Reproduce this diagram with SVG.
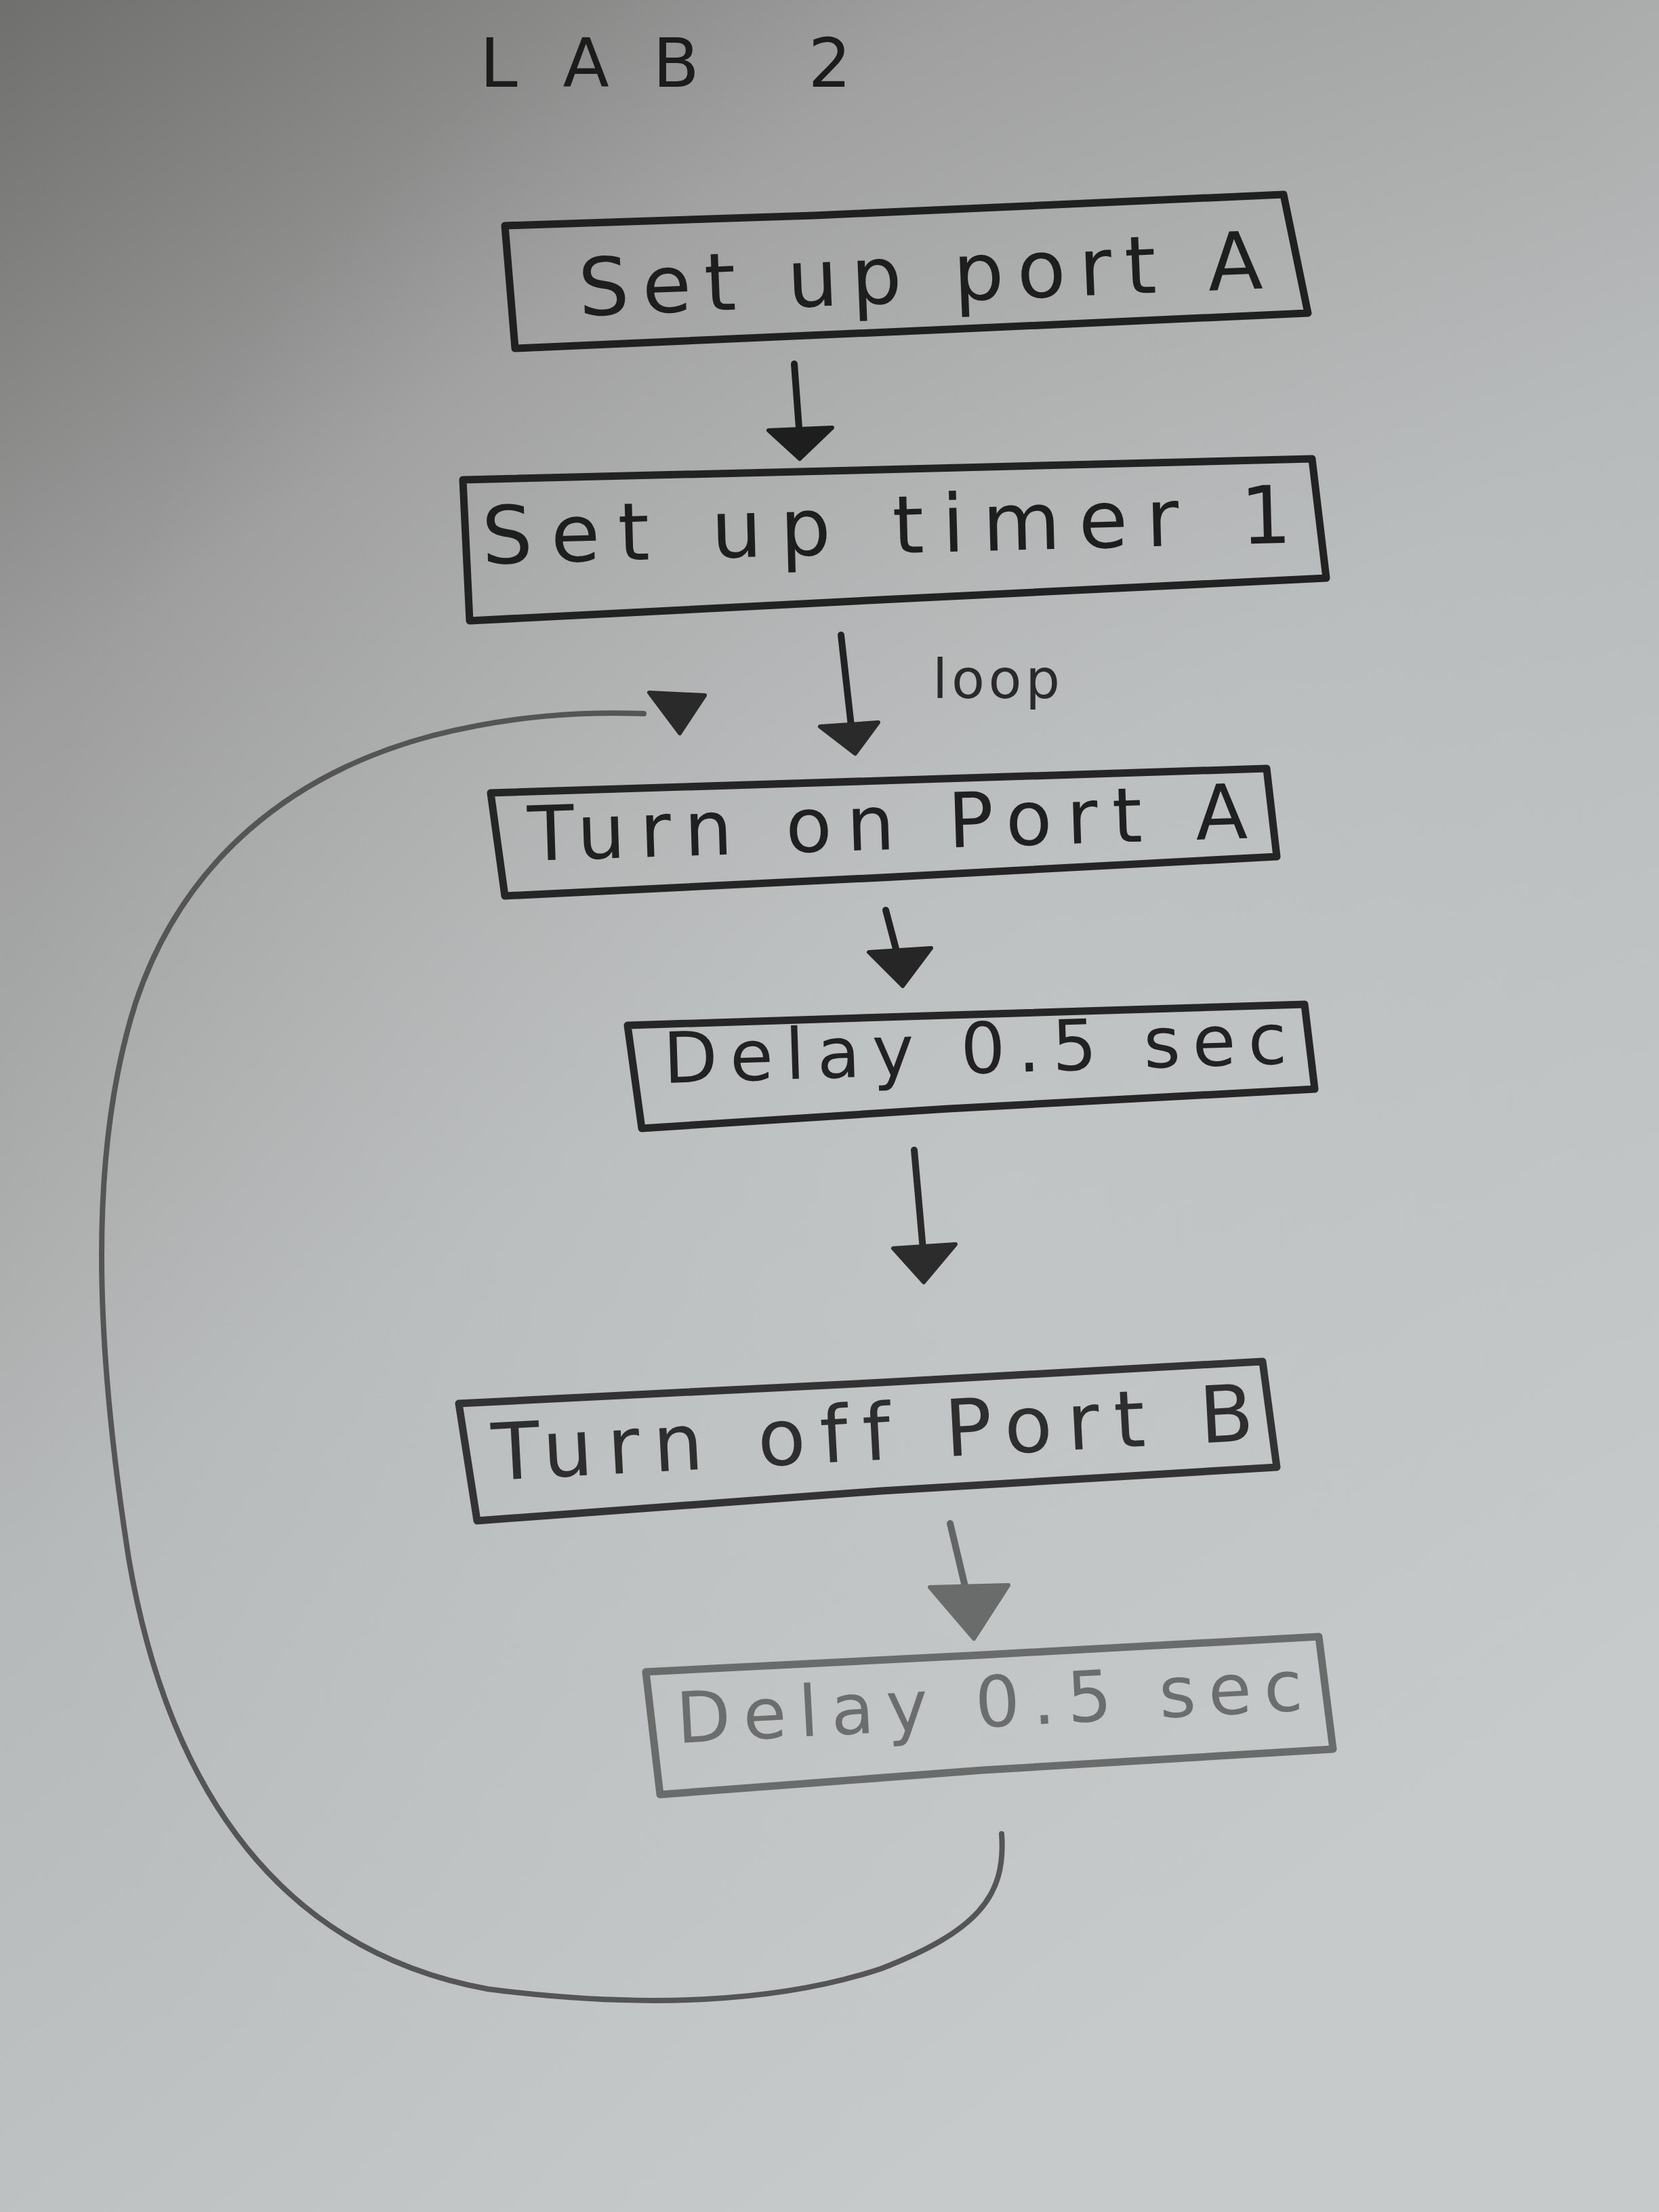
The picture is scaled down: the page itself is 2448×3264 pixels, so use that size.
<svg xmlns="http://www.w3.org/2000/svg" width="2448" height="3264" viewBox="0 0 2448 3264">
<defs>
<linearGradient id="paper" x1="0" y1="0" x2="0.55" y2="1">
<stop offset="0" stop-color="#6f6f6d"/>
<stop offset="0.25" stop-color="#9c9d9c"/>
<stop offset="0.55" stop-color="#b6b9b9"/>
<stop offset="1" stop-color="#c6caca"/>
</linearGradient>
<radialGradient id="glow" cx="0.6" cy="0.55" r="0.6">
<stop offset="0" stop-color="#c6c9c9" stop-opacity="0.6"/>
<stop offset="1" stop-color="#c6c9c9" stop-opacity="0"/>
</radialGradient>
<style>
.box{fill:none;stroke-width:11;stroke-linejoin:round;stroke-linecap:round}
.txt{font-family:"DejaVu Sans","Liberation Sans",sans-serif;font-weight:normal;font-variant-ligatures:none}
.shaft{fill:none;stroke-width:10;stroke-linecap:round}
</style>
</defs>
<rect x="0" y="0" width="2448" height="3264" fill="url(#paper)"/>
<rect x="0" y="0" width="2448" height="3264" fill="url(#glow)"/>

<g id="title">
<text class="txt" x="708" y="128" font-size="100" fill="#1c1c1c" textLength="548" lengthAdjust="spacing">LAB 2</text>
</g>

<g id="node-setup-port-a">
<path class="box" stroke="#202020" d="M745,333 L1200,318 L1894,287 L1930,462 L1400,486 L760,514 Z"/>
<text class="txt" x="855" y="466" font-size="118" fill="#1e1e1e" textLength="1010" lengthAdjust="spacing" transform="rotate(-2.3 855 466)">Set up port A</text>
</g>

<g id="node-setup-timer-1">
<path class="box" stroke="#222" d="M683,708 L1300,693 L1936,677 L1957,853 L1300,885 L693,916 Z"/>
<text class="txt" x="712" y="832" font-size="118" fill="#1e1e1e" textLength="1195" lengthAdjust="spacing" transform="rotate(-1.5 712 832)">Set up timer 1</text>
</g>

<g id="node-turn-on-port-a">
<path class="box" stroke="#252525" d="M724,1170 L1300,1152 L1869,1134 L1884,1264 L1300,1295 L745,1322 Z"/>
<text class="txt" x="780" y="1270" font-size="112" fill="#202020" textLength="1062" lengthAdjust="spacing" transform="rotate(-1.8 780 1270)">Turn on Port A</text>
</g>

<g id="node-delay-1">
<path class="box" stroke="#262626" d="M926,1513 L1400,1498 L1925,1482 L1940,1607 L1400,1636 L947,1665 Z"/>
<text class="txt" x="980" y="1598" font-size="104" fill="#222" textLength="920" lengthAdjust="spacing" transform="rotate(-1.8 980 1598)">Delay 0.5 sec</text>
</g>

<g id="node-turn-off-port-b">
<path class="box" stroke="#333" d="M677,2071 L1300,2040 L1863,2009 L1884,2165 L1300,2200 L704,2244 Z"/>
<text class="txt" x="728" y="2184" font-size="116" fill="#2e2e2e" textLength="1125" lengthAdjust="spacing" transform="rotate(-3 728 2184)">Turn off Port B</text>
</g>

<g id="node-delay-2">
<path class="box" stroke="#6a6b6b" d="M953,2467 L1450,2442 L1946,2415 L1967,2581 L1450,2612 L974,2648 Z"/>
<text class="txt" x="1000" y="2572" font-size="104" fill="#6c6d6d" textLength="925" lengthAdjust="spacing" transform="rotate(-3 1000 2572)">Delay 0.5 sec</text>
</g>

<g id="connectors">
<g id="arrow-1">
<path class="shaft" stroke="#1e1e1e" d="M1172,537 L1180,645"/>
<polygon points="1134,635 1228,631 1180,677" fill="#1e1e1e" stroke="#1e1e1e" stroke-width="6" stroke-linejoin="round"/>
</g>
<g id="arrow-2">
<path class="shaft" stroke="#222" d="M1241,937 L1257,1080"/>
<polygon points="1210,1072 1296,1066 1262,1112" fill="#2a2a2a" stroke="#2a2a2a" stroke-width="6" stroke-linejoin="round"/>
<text class="txt" x="1376" y="1030" font-size="80" fill="#2a2a2a" textLength="188" lengthAdjust="spacing">loop</text>
</g>
<g id="arrow-3">
<path class="shaft" stroke="#222" d="M1307,1343 L1326,1415"/>
<polygon points="1282,1405 1374,1399 1332,1455" fill="#262626" stroke="#262626" stroke-width="6" stroke-linejoin="round"/>
</g>
<g id="arrow-4">
<path class="shaft" stroke="#2a2a2a" d="M1349,1697 L1363,1855"/>
<polygon points="1318,1842 1410,1836 1363,1892" fill="#2c2c2c" stroke="#2c2c2c" stroke-width="6" stroke-linejoin="round"/>
</g>
<g id="arrow-5">
<path class="shaft" stroke="#646565" d="M1402,2248 L1425,2345"/>
<polygon points="1372,2342 1488,2339 1437,2418" fill="#6a6b6b" stroke="#6a6b6b" stroke-width="6" stroke-linejoin="round"/>
</g>
<g id="loop-back">
<path fill="none" stroke="#555" stroke-width="8" stroke-linecap="round" d="M1478,2706 C1485,2800 1440,2850 1300,2905 C1150,2955 950,2965 720,2935 C420,2880 250,2650 190,2300 C140,1980 130,1700 200,1480 C270,1270 430,1140 640,1085 C760,1055 860,1050 950,1053"/>
<polygon points="958,1022 1040,1026 1003,1082" fill="#2a2a2a" stroke="#2a2a2a" stroke-width="6" stroke-linejoin="round"/>
</g>
</g>
</svg>
